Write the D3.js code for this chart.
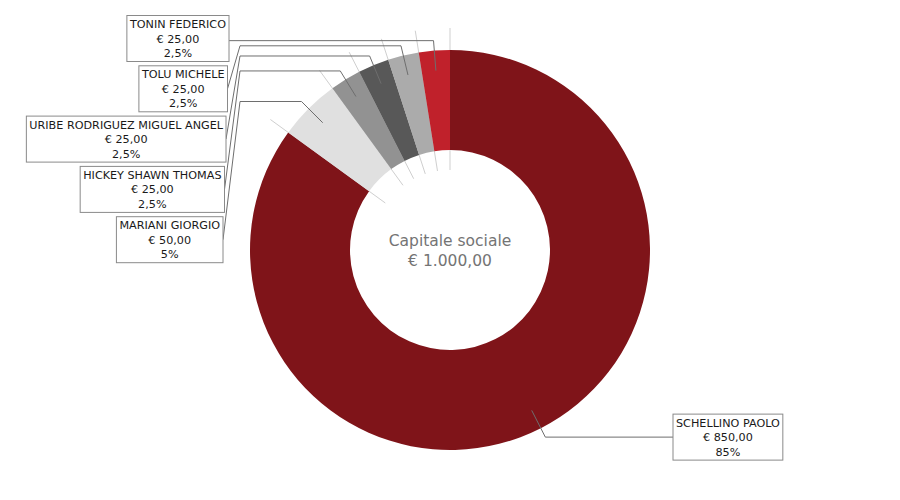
<!DOCTYPE html>
<html><head><meta charset="utf-8">
<script src="https://cdn.jsdelivr.net/npm/d3@7"></script>
<style>
body{margin:0;background:#fff;}
svg text{font-family:"DejaVu Sans",sans-serif;}
</style></head>
<body><svg id="c" width="900" height="500"></svg>
<script>
const names = ["SCHELLINO PAOLO","MARIANI GIORGIO","HICKEY SHAWN THOMAS","URIBE RODRIGUEZ MIGUEL ANGEL","TOLU MICHELE","TONIN FEDERICO"];
const amounts = [850,50,25,25,25,25];
const colors = ["#7f1419","#e0e0e0","#929292","#585858","#ababab","#c0212b"];
const centerTitle = "Capitale sociale";

const W=900,H=500,cx=450,cy=250,R=200,r0=100;
const loc = d3.formatLocale({decimal:",",thousands:".",grouping:[3],currency:["€ ",""]});
const fmtEur = v => "€ " + loc.format(",.2f")(v);
const total = d3.sum(amounts);
const fmtPct = v => loc.format("~r")(+(v*100).toFixed(2)) + "%";

const data = names.map((n,i)=>({name:n, value:amounts[i], color:colors[i]}));
const svg = d3.select("#c");
const g = svg.append("g");
const pie = d3.pie().sort(null).value(d=>d.value).startAngle(0).endAngle(2*Math.PI);
const arcs = pie(data);
const pt = (a,r)=>[cx + r*Math.sin(a), cy - r*Math.cos(a)];

// boundary guide lines (behind slices)
g.selectAll("line.b").data(arcs).join("line")
 .attr("x1",d=>pt(d.startAngle,80)[0]).attr("y1",d=>pt(d.startAngle,80)[1])
 .attr("x2",d=>pt(d.startAngle,222)[0]).attr("y2",d=>pt(d.startAngle,222)[1])
 .attr("stroke","#cfcfcf").attr("stroke-width",1);

const arc = d3.arc().innerRadius(r0).outerRadius(R);
g.selectAll("path.s").data(arcs).join("path")
 .attr("transform",`translate(${cx},${cy})`)
 .attr("d",arc).attr("fill",d=>d.data.color);

// labels
const mid = d=> (d.startAngle+d.endAngle)/2;
const left = arcs.filter(d=>mid(d)>Math.PI).sort((a,b)=>pt(mid(a),210)[1]-pt(mid(b),210)[1]);
const right = arcs.filter(d=>mid(d)<=Math.PI);

function drawLabel(d, anchorX, midY, side){
  const lines=[d.data.name, fmtEur(d.data.value), fmtPct(d.data.value/total)];
  const lg = svg.append("g");
  const rect = lg.append("rect");
  const texts = lines.map((t,i)=>lg.append("text").text(t)
     .attr("font-size","11.2px").attr("fill","#1a1a1a").attr("text-anchor","middle")
     .attr("y", midY + (i-1)*14.5 + 4));
  const w = d3.max(texts,t=>t.node().getComputedTextLength()) + 6;
  const x0 = side==="left" ? anchorX - w : anchorX;
  texts.forEach(t=>t.attr("x", x0 + w/2));
  rect.attr("x",x0).attr("y",midY-23).attr("width",w).attr("height",46)
      .attr("fill","#fff").attr("stroke","#8a8a8a").attr("stroke-width",1);
  // connector
  const a = mid(d);
  const p1 = pt(a,180), p2 = pt(a,210);
  let pts;
  if (side==="left"){
    if (Math.abs(p2[1]-midY)<3) pts=[p1,p2,[anchorX,p2[1]]];
    else pts=[p1,p2,[240,p2[1]],[anchorX,midY]];
  } else {
    pts=[p1,p2,[anchorX,p2[1]]];
  }
  svg.insert("path","g:last-of-type").attr("d",d3.line()(pts))
     .attr("fill","none").attr("stroke","#6e6e6e").attr("stroke-width",1);
}
left.forEach((d,k)=>drawLabel(d, 229 - k*1.5, 38.5 + k*50.3, "left"));
right.forEach(d=>drawLabel(d, 673, pt(mid(d),210)[1], "right"));

// center text
svg.append("text").text(centerTitle).attr("x",cx).attr("y",246)
  .attr("text-anchor","middle").attr("font-size","15.5px").attr("fill","#747474");
svg.append("text").text(fmtEur(total)).attr("x",cx).attr("y",266)
  .attr("text-anchor","middle").attr("font-size","15.5px").attr("fill","#747474");
</script></body></html>
